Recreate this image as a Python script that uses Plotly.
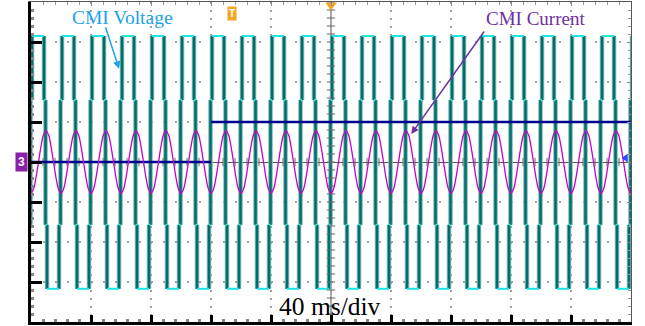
import plotly.graph_objects as go

# ---------------- data ----------------
# time base: 40 ms/div, 10 divisions; vertical: 8 divisions (values in div)
t_range_ms = [0, 400]
v_range_div = [-4, 4]

# CMI voltage: one switching cycle (5-level), offsets in ms from the falling edge
v_first_edge_ms = 9.67
v_period_ms = 20.0
v_cycle_offsets_ms = [0.0, 1.0, 9.0, 10.0, 11.0, 19.0]
v_cycle_levels_div = [-1.57, -3.17, -1.57, 1.55, 3.15, 1.55]
n_cycles = 21

# CMI current: one 50 Hz cycle sampled every 30 deg, starting at t = 0 (trough)
i_cycle_div = [-0.78, -0.68, -0.39, 0.0, 0.39, 0.68, 0.78, 0.68, 0.39, 0.0, -0.39, -0.68]
i_period_ms = 20.0

# control / reference step (dark blue)
step_time_ms = 120.0
step_levels_div = [0.0, 1.0]

# ---------------- build waveforms ----------------
edges_t, edges_v = [], []
for k in range(-1, n_cycles):
    for off, lev in zip(v_cycle_offsets_ms, v_cycle_levels_div):
        edges_t.append(v_first_edge_ms + k * v_period_ms + off)
        edges_v.append(lev)

hx, hy, vx, vy = [], [], [], []
for j in range(1, len(edges_t)):
    t0, t1 = edges_t[j - 1], edges_t[j]
    hx += [t0, t1, None]
    hy += [edges_v[j - 1], edges_v[j - 1], None]
    vx += [t1, t1, None]
    vy += [edges_v[j - 1], edges_v[j], None]

n_i = len(i_cycle_div)
it, iv = [], []
for k in range(int(t_range_ms[1] / i_period_ms) + 1):
    for s, val in enumerate(i_cycle_div):
        it.append(k * i_period_ms + s * i_period_ms / n_i)
        iv.append(val)

TEAL = "#006e6a"
TEAL_LIGHT = "#7db8b5"
CYAN = "#1ee4e4"
NAVY = "#00008f"
MAG = "#c800c8"

fig = go.Figure()
fig.add_trace(go.Scatter(x=vx, y=vy, mode="lines", line=dict(color=TEAL_LIGHT, width=4.5),
                         hoverinfo="skip", showlegend=False))
fig.add_trace(go.Scatter(x=vx, y=vy, mode="lines", line=dict(color=TEAL, width=2.5),
                         hoverinfo="skip", showlegend=False))
fig.add_trace(go.Scatter(x=hx, y=hy, mode="lines", line=dict(color=CYAN, width=2),
                         hoverinfo="skip", showlegend=False))

# center crosshair with minor ticks
fig.add_shape(type="line", x0=200, x1=200, y0=-4, y1=4, xref="x", yref="y",
              line=dict(color="#555555", width=1), layer="below")
minor_y = [round(-4 + 0.2 * k, 2) for k in range(41)]
minor_x = [8 * k for k in range(51)]
fig.add_trace(go.Scatter(x=[200] * len(minor_y), y=minor_y, mode="markers",
                         marker=dict(symbol="line-ew", size=6, line=dict(color="#666666", width=1)),
                         hoverinfo="skip", showlegend=False))
fig.add_trace(go.Scatter(x=minor_x, y=[0] * len(minor_x), mode="markers",
                         marker=dict(symbol="line-ns", size=6, line=dict(color="#666666", width=1)),
                         hoverinfo="skip", showlegend=False))

# dark blue step
fig.add_trace(go.Scatter(x=[t_range_ms[0], step_time_ms, None, step_time_ms, t_range_ms[1]],
                         y=[step_levels_div[0], step_levels_div[0], None, step_levels_div[1], step_levels_div[1]],
                         mode="lines", line=dict(color=NAVY, width=2.5),
                         hoverinfo="skip", showlegend=False))
# current
fig.add_trace(go.Scatter(x=it, y=iv, mode="lines", line=dict(color=MAG, width=1.3, shape="spline"),
                         hoverinfo="skip", showlegend=False))

# scope markers
fig.add_trace(go.Scatter(x=[200], y=[3.92], mode="markers", cliponaxis=False,
                         marker=dict(symbol="triangle-down", size=10, color="#f5a623"),
                         hoverinfo="skip", showlegend=False))
fig.add_trace(go.Scatter(x=[396.5], y=[0.1], mode="markers", cliponaxis=False,
                         marker=dict(symbol="triangle-left", size=8, color="#2a4dff"),
                         hoverinfo="skip", showlegend=False))
# invisible trace for the top/right border axes
fig.add_trace(go.Scatter(x=[0], y=[0], xaxis="x2", yaxis="y2", mode="markers",
                         marker=dict(opacity=0), hoverinfo="skip", showlegend=False))

SERIF = "Liberation Serif, Times New Roman, serif"
fig.add_annotation(x=60.7, y=3.62, text="CMI Voltage", showarrow=False,
                   font=dict(family=SERIF, size=19.5, color="#1ba3e6"))
fig.add_annotation(x=58.7, y=2.33, ax=-14, ay=-43, text="", showarrow=True,
                   arrowhead=2, arrowsize=1, arrowwidth=1.5, arrowcolor="#1ba3e6")
fig.add_annotation(x=336.5, y=3.6, text="CMI Current", showarrow=False,
                   font=dict(family=SERIF, size=19, color="#7030a0"))
fig.add_annotation(x=253.5, y=0.7, ax=74, ay=-104, text="", showarrow=True,
                   arrowhead=2, arrowsize=1, arrowwidth=1.5, arrowcolor="#7030a0")
fig.add_annotation(x=199.5, y=-3.6, text="40 ms/div", showarrow=False,
                   font=dict(family=SERIF, size=25.5, color="#000000"))
fig.add_annotation(x=134, y=3.72, text="<b>T</b>", showarrow=False,
                   font=dict(family="Arial", size=10, color="#ffffff"),
                   bgcolor="#f5a623", borderpad=1)
fig.add_annotation(xref="paper", x=-0.0265, y=0.0, text="<b>3</b>", showarrow=False,
                   font=dict(family="Arial", size=12, color="#ffffff"),
                   bgcolor="#8b1fa9", borderpad=2)

fig.update_layout(
    width=645, height=326,
    margin=dict(l=31, r=14, t=2, b=4, autoexpand=False),
    paper_bgcolor="white", plot_bgcolor="white",
    xaxis=dict(range=t_range_ms, showticklabels=False, showline=True, linecolor="black",
               linewidth=2.5, ticks="inside", ticklen=7, tickwidth=2.5, tickcolor="black",
               tick0=0, dtick=40, showgrid=True, gridcolor="#a0a0a0", gridwidth=1.5,
               griddash="1.5px,6.5px", zeroline=False,
               minor=dict(ticks="inside", ticklen=3, tickcolor="#888888", dtick=8, showgrid=False)),
    yaxis=dict(range=v_range_div, showticklabels=False, showline=True, linecolor="black",
               linewidth=2.5, ticks="inside", ticklen=11, tickwidth=2.5, tickcolor="black",
               tick0=0, dtick=1, showgrid=True, gridcolor="#a0a0a0", gridwidth=1.5,
               griddash="1.5px,10.5px", zeroline=True, zerolinecolor="#555555", zerolinewidth=1,
               minor=dict(ticks="inside", ticklen=3, tickcolor="#888888", dtick=0.2, showgrid=False)),
    xaxis2=dict(range=t_range_ms, overlaying="x", side="top", anchor="y2", showticklabels=False,
                showline=True, linecolor="#555555", linewidth=1, ticks="inside", ticklen=4,
                tickcolor="#888888", dtick=40, showgrid=False, zeroline=False,
                minor=dict(ticks="inside", ticklen=3, tickcolor="#999999", dtick=8)),
    yaxis2=dict(range=v_range_div, overlaying="y", side="right", anchor="x2", showticklabels=False,
                showline=True, linecolor="#555555", linewidth=1, ticks="inside", ticklen=4,
                tickcolor="#888888", dtick=1, showgrid=False, zeroline=False,
                minor=dict(ticks="inside", ticklen=3, tickcolor="#999999", dtick=0.2)),
)

fig.write_html("out.html")
